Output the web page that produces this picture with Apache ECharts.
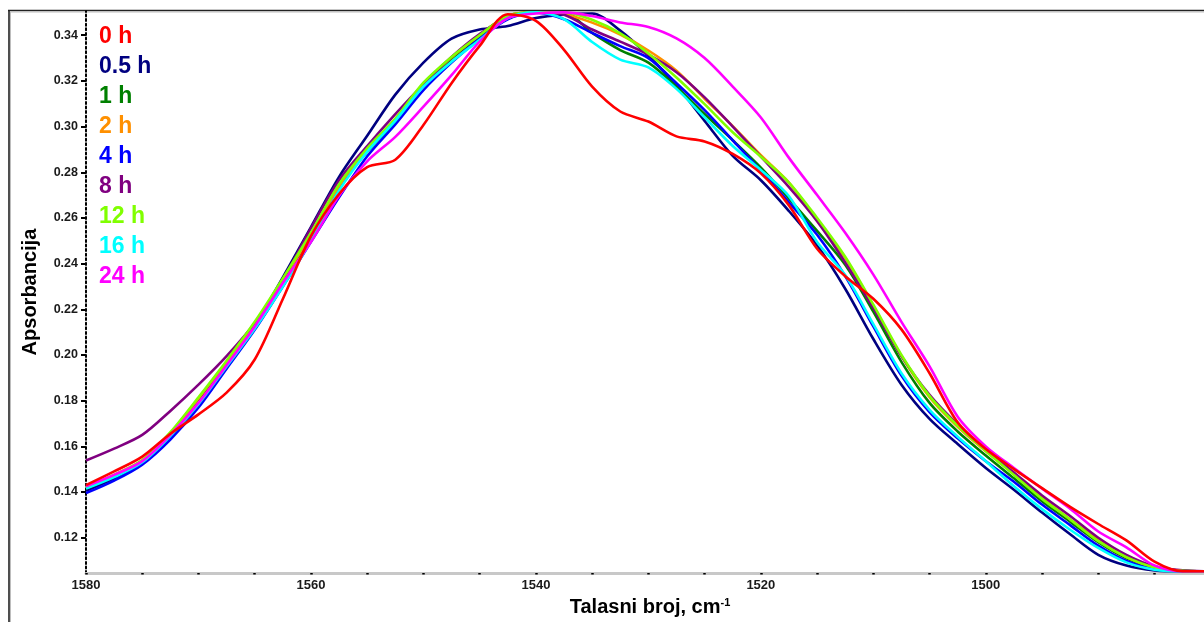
<!DOCTYPE html>
<html>
<head>
<meta charset="utf-8">
<script src="https://cdn.jsdelivr.net/npm/echarts@6/dist/echarts.min.js"></script>
<style>
  html, body { margin: 0; padding: 0; background: #ffffff; }
  #chart { width: 1204px; height: 622px; }
</style>
</head>
<body>
<div id="chart"></div>
<script>
// Wavenumber sampling (cm^-1), high to low
const wavenumbers = [1580, 1577.5, 1575, 1572.5, 1570, 1567.5, 1565, 1562.5, 1560, 1557.5,
  1555, 1552.5, 1550, 1547.5, 1545, 1542.5, 1540, 1537.5, 1535, 1532.5,
  1530, 1527.5, 1525, 1522.5, 1520, 1517.5, 1515, 1512.5, 1510, 1507.5,
  1505, 1502.5, 1500, 1497.5, 1495, 1492.5, 1490, 1487.5, 1485, 1482.5, 1480];

const seriesNames = ['0 h', '0.5 h', '1 h', '2 h', '4 h', '8 h', '12 h', '16 h', '24 h'];
const seriesColors = ['#ff0000', '#000080', '#008000', '#ff9000', '#0000ff', '#800080', '#80ff00', '#00ffff', '#ff00ff'];

// Absorbance per exposure time
const abs0h = [0.143, 0.149, 0.1555, 0.1655, 0.174, 0.1835, 0.198, 0.2245, 0.252, 0.2705,
  0.2822, 0.2855, 0.3007, 0.319, 0.3353, 0.3492, 0.3463, 0.3336, 0.3175, 0.3066,
  0.3022, 0.2957, 0.2935, 0.288, 0.2795, 0.2655, 0.2465, 0.2345, 0.2246, 0.2112,
  0.192, 0.1705, 0.1588, 0.150, 0.1417, 0.1335, 0.126, 0.1188, 0.1095, 0.1053, 0.1053];
const abs05h = [0.1405, 0.146, 0.153, 0.164, 0.178, 0.195, 0.213, 0.234, 0.256, 0.278,
  0.296, 0.314, 0.328, 0.3385, 0.3425, 0.344, 0.3475, 0.349, 0.3495, 0.342,
  0.331, 0.318, 0.3025, 0.2872, 0.2765, 0.263, 0.248, 0.229, 0.207, 0.187,
  0.172, 0.161, 0.1505, 0.141, 0.131, 0.1215, 0.1125, 0.1078, 0.1057, 0.1053, 0.1053];
const abs1h = [0.1415, 0.147, 0.1535, 0.1655, 0.1805, 0.196, 0.2125, 0.2315, 0.2512, 0.2733,
  0.289, 0.302, 0.318, 0.3297, 0.3396, 0.3485, 0.35, 0.35, 0.341, 0.3335,
  0.328, 0.3175, 0.3055, 0.294, 0.282, 0.2685, 0.2543, 0.2395, 0.219, 0.197,
  0.179, 0.1665, 0.156, 0.146, 0.136, 0.127, 0.118, 0.111, 0.1068, 0.1055, 0.1053];
const abs2h = [0.142, 0.1475, 0.1538, 0.1658, 0.181, 0.197, 0.2138, 0.2328, 0.2525, 0.274,
  0.29, 0.303, 0.3185, 0.3302, 0.34, 0.3485, 0.35, 0.3493, 0.3455, 0.3403,
  0.3333, 0.3245, 0.3122, 0.3002, 0.2875, 0.2755, 0.259, 0.2425, 0.2215, 0.1995,
  0.1815, 0.1685, 0.1578, 0.148, 0.1375, 0.128, 0.119, 0.1115, 0.107, 0.1055, 0.1053];
const abs4h = [0.1395, 0.145, 0.152, 0.163, 0.177, 0.194, 0.211, 0.23, 0.2495, 0.269,
  0.287, 0.301, 0.316, 0.328, 0.3385, 0.347, 0.35, 0.347, 0.341, 0.3352,
  0.33, 0.319, 0.3072, 0.294, 0.2807, 0.2668, 0.2526, 0.2345, 0.2125, 0.191,
  0.175, 0.1635, 0.1535, 0.1445, 0.1345, 0.1255, 0.1165, 0.1098, 0.1062, 0.1054, 0.1053];
const abs8h = [0.1538, 0.159, 0.165, 0.1755, 0.187, 0.1995, 0.214, 0.233, 0.2555, 0.2765,
  0.2915, 0.3055, 0.3185, 0.3305, 0.3405, 0.348, 0.35, 0.349, 0.3425, 0.3372,
  0.3315, 0.3238, 0.3128, 0.30, 0.2868, 0.2735, 0.2586, 0.2405, 0.2205, 0.1995,
  0.1825, 0.1695, 0.1585, 0.1485, 0.1385, 0.1295, 0.12, 0.1125, 0.1075, 0.1057, 0.1053];
const abs12h = [0.1418, 0.1475, 0.154, 0.1662, 0.1815, 0.1975, 0.2145, 0.2335, 0.2535, 0.2748,
  0.2905, 0.3035, 0.3192, 0.3305, 0.34, 0.3485, 0.35, 0.35, 0.3468, 0.3408,
  0.332, 0.3215, 0.3098, 0.2975, 0.2868, 0.2755, 0.26, 0.243, 0.222, 0.2,
  0.182, 0.169, 0.158, 0.1475, 0.137, 0.128, 0.1185, 0.1115, 0.107, 0.1055, 0.1053];
const abs16h = [0.1415, 0.1465, 0.153, 0.1645, 0.1785, 0.195, 0.2115, 0.23, 0.25, 0.272,
  0.289, 0.3025, 0.3175, 0.3284, 0.338, 0.3475, 0.35, 0.347, 0.337, 0.3293,
  0.3259, 0.3165, 0.304, 0.2915, 0.281, 0.2695, 0.2495, 0.235, 0.2135, 0.192,
  0.176, 0.1642, 0.1535, 0.1425, 0.1325, 0.1235, 0.1155, 0.1092, 0.106, 0.1053, 0.1053];
const abs24h = [0.1425, 0.1475, 0.1535, 0.165, 0.179, 0.1955, 0.2125, 0.2315, 0.2495, 0.2697,
  0.2848, 0.2955, 0.3087, 0.3225, 0.3372, 0.3475, 0.3495, 0.35, 0.3484, 0.3456,
  0.3436, 0.3386, 0.33, 0.3175, 0.304, 0.2863, 0.27, 0.2535, 0.2352, 0.2145,
  0.195, 0.173, 0.160, 0.1505, 0.1415, 0.1327, 0.1227, 0.1158, 0.1078, 0.1053, 0.1053];

const seriesValues = [abs0h, abs05h, abs1h, abs2h, abs4h, abs8h, abs12h, abs16h, abs24h];

// Axis ticks
const xLabelValues = [1580, 1560, 1540, 1520, 1500];
const xDotValues = [1580, 1575, 1570, 1565, 1560, 1555, 1550, 1545, 1540, 1535, 1530,
  1525, 1520, 1515, 1510, 1505, 1500, 1495, 1490, 1485];
const yLabelValues = [0.12, 0.14, 0.16, 0.18, 0.20, 0.22, 0.24, 0.26, 0.28, 0.30, 0.32, 0.34];

const FONT = '"Liberation Sans", Arial, sans-serif';

const chart = echarts.init(document.getElementById('chart'), null, { renderer: 'canvas' });

chart.setOption({
  animation: false,
  backgroundColor: '#ffffff',
  grid: { left: 86, right: 0, top: 11, bottom: 43, containLabel: false },
  graphic: [
    { type: 'line', z: 0, shape: { x1: 8, y1: 10.5, x2: 1204, y2: 10.5 }, style: { stroke: '#222222', lineWidth: 1.6 } },
    { type: 'line', z: 0, shape: { x1: 10, y1: 12, x2: 1204, y2: 12 }, style: { stroke: '#bdbdbd', lineWidth: 1 } },
    { type: 'line', z: 0, shape: { x1: 9, y1: 10, x2: 9, y2: 622 }, style: { stroke: '#222222', lineWidth: 1.6 } },
    { type: 'line', z: 0, shape: { x1: 10.5, y1: 12, x2: 10.5, y2: 622 }, style: { stroke: '#bdbdbd', lineWidth: 1 } }
  ],
  legend: {
    orient: 'vertical',
    left: 89,
    top: 20,
    itemGap: 7,
    itemWidth: 0,
    itemHeight: 23,
    icon: 'rect',
    selectedMode: false,
    itemStyle: { opacity: 0 },
    lineStyle: { opacity: 0 },
    textStyle: { fontFamily: FONT, fontWeight: 'bold', fontSize: 23, lineHeight: 23 },
    data: seriesNames.map((n, i) => ({ name: n, textStyle: { color: seriesColors[i] } }))
  },
  xAxis: {
    type: 'value',
    inverse: true,
    min: 1480.6,
    max: 1580,
    axisLine: { show: true, lineStyle: { color: '#c8c8c8', width: 3 } },
    axisTick: { show: true, customValues: xDotValues, length: 1.5, lineStyle: { color: '#000000', width: 2.5 } },
    axisLabel: {
      customValues: xLabelValues,
      formatter: (v) => String(v),
      fontFamily: FONT, fontWeight: 'bold', fontSize: 13, color: '#1a1a1a', margin: 6
    },
    splitLine: { show: false },
    name: '{t|Talasni broj, cm}{s|-1}',
    nameLocation: 'middle',
    nameGap: 22,
    nameTextStyle: {
      padding: [0, 0, 0, 10],
      rich: {
        t: { fontFamily: FONT, fontWeight: 'bold', fontSize: 20, color: '#000000' },
        s: { fontFamily: FONT, fontWeight: 'bold', fontSize: 11, color: '#000000', verticalAlign: 'top' }
      }
    }
  },
  yAxis: {
    type: 'value',
    min: 0.1045,
    max: 0.3506,
    axisLine: { show: true, lineStyle: { color: '#000000', width: 2, type: [2, 2.6] } },
    axisTick: { show: true, customValues: yLabelValues, length: 5, lineStyle: { color: '#000000', width: 2 } },
    axisLabel: {
      customValues: yLabelValues,
      formatter: (v) => v.toFixed(2),
      fontFamily: FONT, fontWeight: 'bold', fontSize: 12.5, color: '#1a1a1a', margin: 8
    },
    splitLine: { show: false },
    name: 'Apsorbancija',
    nameLocation: 'middle',
    nameRotate: 90,
    nameGap: 46,
    nameTextStyle: { fontFamily: FONT, fontWeight: 'bold', fontSize: 20, color: '#000000' }
  },
  series: seriesNames.map((n, i) => ({
    name: n,
    type: 'line',
    data: wavenumbers.map((w, j) => [w, seriesValues[i][j]]),
    symbol: 'none',
    showSymbol: false,
    smooth: 0.3,
    clip: false,
    z: n === '0 h' ? 3 : 2,
    lineStyle: { color: seriesColors[i], width: 2.6 },
    itemStyle: { color: seriesColors[i] }
  }))
});
</script>
</body>
</html>
